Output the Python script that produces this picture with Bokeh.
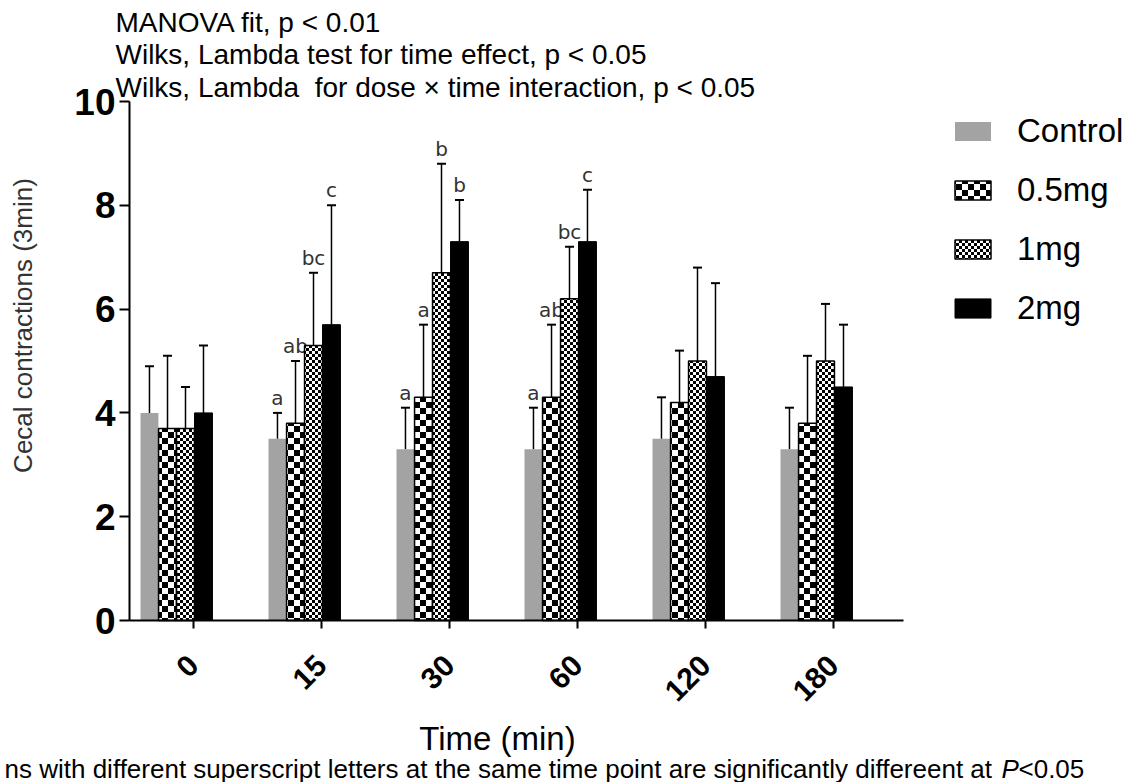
import math
import base64
from bokeh.plotting import figure
from bokeh.models import (ColumnDataSource, Whisker, TeeHead, Legend, LegendItem, Label,
                          FixedTicker, ImageURLTexture, Range1d)
from bokeh.core.properties import value
from bokeh.embed import file_html
from bokeh.resources import INLINE

# ---------------- data ----------------
times = ["0", "15", "30", "60", "120", "180"]
series = ["Control", "0.5mg", "1mg", "2mg"]

control_mean = [4.0, 3.5, 3.3, 3.3, 3.5, 3.3]
control_sd = [0.9, 0.5, 0.8, 0.8, 0.8, 0.8]
dose05_mean = [3.7, 3.8, 4.3, 4.3, 4.2, 3.8]
dose05_sd = [1.4, 1.2, 1.4, 1.4, 1.0, 1.3]
dose1_mean = [3.7, 5.3, 6.7, 6.2, 5.0, 5.0]
dose1_sd = [0.8, 1.4, 2.1, 1.0, 1.8, 1.1]
dose2_mean = [4.0, 5.7, 7.3, 7.3, 4.7, 4.5]
dose2_sd = [1.3, 2.3, 0.8, 1.0, 1.8, 1.2]

control_letters = ["", "a", "a", "a", "", ""]
dose05_letters = ["", "ab", "a", "ab", "", ""]
dose1_letters = ["", "bc", "b", "bc", "", ""]
dose2_letters = ["", "c", "b", "c", "", ""]

y_ticks = [0, 2, 4, 6, 8, 10]

notes = ["MANOVA fit, p < 0.01",
         "Wilks, Lambda test for time effect, p < 0.05",
         "Wilks, Lambda \u00a0for dose \u00d7 time interaction, p < 0.05"]
footnote_parts = ["ns with different superscript letters at the same time point are significantly differeent at",
                  "P", "<0.05"]

means = [control_mean, dose05_mean, dose1_mean, dose2_mean]
sds = [control_sd, dose05_sd, dose1_sd, dose2_sd]
letters = [control_letters, dose05_letters, dose1_letters, dose2_letters]

# ---------------- layout ----------------
W, H = 1134, 782
X0, XS = 193.0, 128.0     # pixel of first time point, pixels per group
Y0, YS = 620.0, 51.9      # pixel of value 0, pixels per unit


def fx(px):
    return (px - X0) / XS


def fy(py):
    return (Y0 - py) / YS


offsets = [-0.344, -0.203, -0.0625, 0.078]
bar_w = 0.14

p = figure(width=W, height=H, output_backend="svg", toolbar_location=None,
           x_range=Range1d(fx(0), fx(W)), y_range=Range1d(fy(H), fy(0)),
           min_border=0)
p.title.visible = False
p.outline_line_color = None
p.xgrid.visible = False
p.ygrid.visible = False
p.background_fill_color = "white"
p.border_fill_color = "white"


def checker_svg(n):
    h = n // 2
    svg = (f'<svg xmlns="http://www.w3.org/2000/svg" width="{n}" height="{n}">'
           f'<rect width="{n}" height="{n}" fill="white"/>'
           f'<rect width="{h}" height="{h}" fill="black"/>'
           f'<rect x="{h}" y="{h}" width="{h}" height="{h}" fill="black"/></svg>')
    return "data:image/svg+xml;base64," + base64.b64encode(svg.encode()).decode()


big_checker = ImageURLTexture(url=checker_svg(12), repetition="repeat")
small_checker = ImageURLTexture(url=checker_svg(6), repetition="repeat")

styles = [
    dict(fill_color="#a3a3a3", line_color=None),
    dict(fill_color="white", line_color="black", line_width=1.5,
         hatch_pattern=value("bigchk"), hatch_extra={"bigchk": big_checker},
         hatch_color="black"),
    dict(fill_color="white", line_color="black", line_width=1.5,
         hatch_pattern=value("smallchk"), hatch_extra={"smallchk": small_checker},
         hatch_color="black"),
    dict(fill_color="black", line_color="black", line_width=1),
]

renderers = []
for k in range(4):
    xs = [i + offsets[k] for i in range(len(times))]
    hi = [m + s for m, s in zip(means[k], sds[k])]
    src = ColumnDataSource(dict(x=xs, top=means[k], lo=means[k], hi=hi, lab=letters[k]))
    r = p.vbar(x="x", top="top", bottom=0, width=bar_w, source=src, **styles[k])
    renderers.append(r)
    w = Whisker(base="x", lower="lo", upper="hi", source=src, dimension="height",
                line_color="black", line_width=1.5, lower_head=None,
                upper_head=TeeHead(size=9, line_color="black", line_width=2))
    p.add_layout(w)
    p.text(x="x", y="hi", text="lab", source=src, text_align="center",
           text_baseline="bottom", y_offset=-3, text_font=value("DejaVu Sans"),
           text_font_size="20px", text_color="#333333")

# ---------------- axes (drawn at fixed positions inside the canvas) ----------------
x_left, x_right = fx(129), fx(903)

xa = p.xaxis[0]
xa.fixed_location = 0
xa.bounds = (x_left, x_right)
xa.ticker = FixedTicker(ticks=list(range(len(times))))
xa.major_label_overrides = {i: t for i, t in enumerate(times)}
xa.major_label_orientation = math.pi / 4
xa.major_label_text_font = "Liberation Sans"
xa.major_label_text_font_style = "bold"
xa.major_label_text_font_size = "30px"
xa.major_label_text_color = "black"
xa.major_label_standoff = 32
xa.axis_line_width = 2
xa.axis_line_color = "black"
xa.major_tick_line_width = 2
xa.major_tick_out = 8
xa.major_tick_in = 0
xa.minor_tick_line_color = None

ya = p.yaxis[0]
ya.fixed_location = x_left
ya.bounds = (0, 10)
ya.ticker = FixedTicker(ticks=y_ticks)
ya.major_label_text_font = "Liberation Sans"
ya.major_label_text_font_style = "bold"
ya.major_label_text_font_size = "37px"
ya.major_label_text_color = "black"
ya.major_label_standoff = 4
ya.axis_line_width = 2
ya.axis_line_color = "black"
ya.major_tick_line_width = 2
ya.major_tick_out = 10
ya.major_tick_in = 0
ya.minor_tick_line_color = None

# ---------------- texts ----------------
def add_label(text, px, py, size, align="left", angle=0.0, color="black", style="normal"):
    p.add_layout(Label(x=fx(px), y=fy(py), text=text, text_align=align,
                       text_baseline="middle", angle=angle,
                       text_font="Liberation Sans", text_font_size=size,
                       text_font_style=style, text_color=color))


for t, py in zip(notes, [22, 54, 87]):
    add_label(t, 115, py, "28px")

add_label("Cecal contractions (3min)", 22, 325, "26px", align="center",
          angle=math.pi / 2, color="#333333")
add_label("Time (min)", 497, 738, "33px", align="center")

add_label(footnote_parts[0], 4, 768, "26px")
add_label(footnote_parts[1], 1001, 768, "26px", style="italic")
add_label(footnote_parts[2], 1018, 768, "26px")

# ---------------- legend ----------------
legend = Legend(items=[LegendItem(label=s, renderers=[r]) for s, r in zip(series, renderers)],
                location=(950, H - 327), glyph_width=45, glyph_height=24, label_standoff=22,
                label_text_font="Liberation Sans", label_text_font_size="33px",
                label_text_color="black", spacing=21, padding=0, margin=0,
                border_line_color=None, background_fill_alpha=0)
p.add_layout(legend)

open("out.html", "w").write(file_html(p, INLINE))
